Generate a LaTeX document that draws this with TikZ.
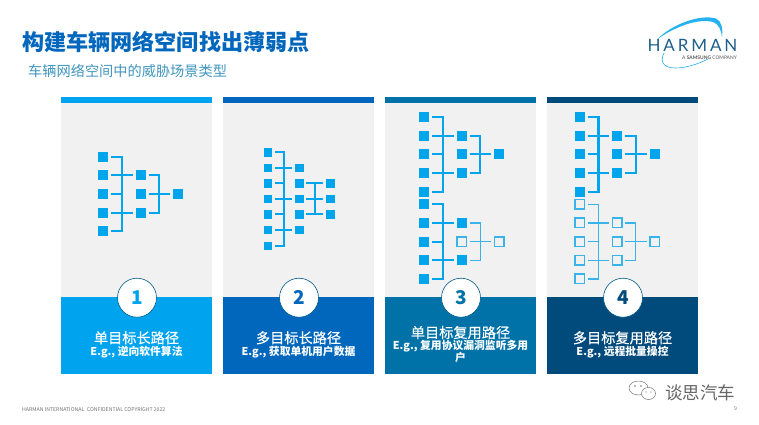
\documentclass[tikz,border=0pt]{standalone}
\usepackage{fontspec}
\setmainfont{Noto Sans CJK SC}
\newfontfamily\medfont[FakeBold=0.35]{Noto Sans CJK SC}
\newfontfamily\logofont[LetterSpace=17]{Lato}
\newfontfamily\logosubfont{Lato}
\usetikzlibrary{positioning, calc}

\definecolor{hcyan}{HTML}{00A3EE}
\definecolor{hblue}{HTML}{0067BD}
\definecolor{hteal}{HTML}{0072A8}
\definecolor{hnavy}{HTML}{004A7C}
\definecolor{hgrey}{HTML}{F1F1F1}
\definecolor{hwire}{HTML}{00A5EC}
\definecolor{hopen}{HTML}{38B4EA}
\definecolor{hlogo}{HTML}{1F5F8B}

\tikzset{
  sqsolid/.style={rectangle, fill=hwire, minimum size=10pt, inner sep=0pt},
  sqopen/.style={rectangle, draw=hopen, fill=hgrey, line width=1.5pt, minimum size=9.5pt, inner sep=0pt},
  sqsmall/.style={rectangle, fill=hwire, minimum size=8.4pt, inner sep=0pt},
  wiresolid/.style={draw=hwire, line width=2.2pt, shorten <=2.7pt},
  wireopen/.style={draw=hopen, line width=1.2pt, shorten <=2.7pt},
  gap/.style={shorten >=2.7pt},
}

% one tree of five, three and one squares: name, x, y, then looks of first column, outer squares, the rest
\newcommand{\attacktree}[6]{%
  \foreach \r/\dy in {1/0, 2/18.67, 3/37.33, 4/56, 5/74.67}
    \node[sq#4] (#1-a\r) at (#2,#3+\dy) {};
  \node[sq#5] (#1-b1) at (#2+37.4,#3+18.67) {};
  \node[sq#6] (#1-b2) at (#2+37.4,#3+37.33) {};
  \node[sq#5] (#1-b3) at (#2+37.4,#3+56) {};
  \node[sq#6] (#1-c) at (#2+75,#3+37.33) {};
  \coordinate (#1-top) at (#2+18.7,#3);
  \coordinate (#1-mid) at (#2+18.7,#3+37.33);
  \coordinate (#1-bot) at (#2+18.7,#3+74.67);
  \coordinate (#1-top2) at (#2+56,#3+18.67);
  \coordinate (#1-bot2) at (#2+56,#3+56);
  \draw[wire#4, gap] (#1-a1.east) -- (#1-top) -- (#1-bot) -- (#1-a5.east);
  \draw[wire#4, gap] (#1-a2.east) -- (#1-b1.west);
  \draw[wire#4] (#1-a3.east) -- (#1-mid);
  \draw[wire#4, gap] (#1-a4.east) -- (#1-b3.west);
  \draw[wire#6, gap] (#1-b1.east) -- (#1-top2) -- (#1-bot2) -- (#1-b3.east);
  \draw[wire#6, gap] (#1-b2.east) -- (#1-c.west);
}

\begin{document}
\begin{tikzpicture}[x=1pt, y=-1pt,
  maintitle/.style={anchor=west, inner sep=0pt, font=\fontsize{22.1}{26}\selectfont\bfseries, text=hblue},
  subtitle/.style={anchor=west, inner sep=0pt, font=\fontsize{14.2}{17}\selectfont, text=hteal!75},
  numcircle/.style={circle, draw=hteal!80!black, fill=white, line width=0.6pt, minimum size=39pt, inner sep=0pt, font=\fontsize{19}{22}\selectfont\bfseries},
  paneltext/.style={align=center, text=white, inner sep=0pt},
  footer/.style={inner sep=0pt, text=black!55, font=\fontsize{5.2}{6}\selectfont},
]
\useasboundingbox (0,0) rectangle (759,424);
\fill[white] (0,0) rectangle (759,424);

% title
\node[maintitle] (title) at (22,41.7) {构建车辆网络空间找出薄弱点};
\node[subtitle] (subhead) at (28,70.7) {车辆网络空间中的威胁场景类型};

% logo
\node[inner sep=0pt, text=hlogo, font=\logofont\fontsize{17}{18}\selectfont] (logoname) at (692.5,45) {HARMAN};
\node[inner sep=0pt, text=black!65, font=\logosubfont\fontsize{4.9}{5.5}\selectfont] (logosub) at (709.5,57.3) {A \textbf{SAMSUNG} COMPANY};
\fill[hcyan!85] (657,39.5) .. controls (672,24) and (700,14) .. (716,18.5) .. controls (722,21) and (723,30) .. (722,37) .. controls (721,30) and (719,24) .. (713,22) .. controls (698,18) and (674,27) .. (657,39.5);
\draw[hcyan!85, line width=0.6pt] (664,53) .. controls (660,60) and (662,68) .. (675,68) .. controls (688,68) and (700,63) .. (708,59);

% panels
\foreach \n/\px/\pc in {1/61/hcyan, 2/223/hblue, 3/385/hteal, 4/547/hnavy} {
  \fill[hgrey] (\px,97) rectangle (\px+151,297);
  \fill[\pc] (\px,97) rectangle (\px+151,103);
  \fill[\pc] (\px,297) rectangle (\px+151,374);
}

% trees
\attacktree{one}{103.3}{156.7}{solid}{solid}{solid}
\attacktree{upthree}{424.3}{117}{solid}{solid}{solid}
\attacktree{lowthree}{424.3}{204.3}{solid}{solid}{open}
\attacktree{upfour}{579.7}{117}{solid}{solid}{solid}
\attacktree{lowfour}{579.7}{204.3}{open}{open}{open}

% second tree is wider
\foreach \r/\ry in {1/152.3, 2/168, 3/183.3, 4/198.8, 5/214.3, 6/230.2, 7/246}
  \node[sqsmall] (two-a\r) at (267.7,\ry) {};
\foreach \r/\ry in {1/168, 2/183.3, 3/198.8, 4/214.3, 5/230.2}
  \node[sqsmall] (two-b\r) at (299.3,\ry) {};
\foreach \r/\ry in {1/183.3, 2/198.8, 3/214.3}
  \node[sqsmall] (two-c\r) at (330.3,\ry) {};
\coordinate (two-top) at (284,152.3);
\coordinate (two-bot) at (284,246);
\coordinate (two-top2) at (314.7,183.3);
\coordinate (two-bot2) at (314.7,214.3);
\draw[wiresolid, gap] (two-a1.east) -- (two-top) -- (two-bot) -- (two-a7.east);
\draw[wiresolid, gap] (two-a2.east) -- (two-b1.west);
\draw[wiresolid] (two-a3.east) -- (two-a3.east -| two-top);
\draw[wiresolid, gap] (two-a4.east) -- (two-b3.west);
\draw[wiresolid] (two-a5.east) -- (two-a5.east -| two-top);
\draw[wiresolid, gap] (two-a6.east) -- (two-b5.west);
\draw[wiresolid, gap] (two-b2.east) -- (two-c1.west);
\draw[wiresolid, gap] (two-b3.east) -- (two-c2.west);
\draw[wiresolid, gap] (two-b4.east) -- (two-c3.west);
\draw[wiresolid, shorten <=0pt] (two-top2) -- (two-bot2);

% numbers
\node[numcircle, text=hcyan] (num1) at (137,297.7) {1};
\node[numcircle, text=hblue] (num2) at (299,297.7) {2};
\node[numcircle, text=hteal] (num3) at (461,297.7) {3};
\node[numcircle, text=hnavy] (num4) at (623,297.7) {4};

% panel texts
\node[paneltext] (text1) at (136.5,344.5) {{\medfont\fontsize{14.2}{16.5}\selectfont 单目标长路径}\\{\fontsize{10.8}{12.5}\selectfont\bfseries E.g., 逆向软件算法}};
\node[paneltext] (text2) at (298.5,344.5) {{\medfont\fontsize{14.2}{16.5}\selectfont 多目标长路径}\\{\fontsize{10.8}{12.5}\selectfont\bfseries E.g., 获取单机用户数据}};
\node[paneltext] (text3) at (460.5,344.5) {{\medfont\fontsize{14.2}{16.5}\selectfont 单目标复用路径}\\{\fontsize{10.8}{12.5}\selectfont\bfseries E.g., 复用协议漏洞监听多用}\\{\fontsize{10.8}{12.5}\selectfont\bfseries 户}};
\node[paneltext] (text4) at (622.5,344.5) {{\medfont\fontsize{14.2}{16.5}\selectfont 多目标复用路径}\\{\fontsize{10.8}{12.5}\selectfont\bfseries E.g., 远程批量操控}};

% footer
\node[footer, anchor=west] (foot) at (22,410) {HARMAN INTERNATIONAL. CONFIDENTIAL COPYRIGHT 2022};
\node[footer] (page) at (735.5,409) {9};

% watermark
\draw[black!55, line width=0.5pt, fill=white] (638.5,388) ellipse (9.5 and 7);
\draw[black!55, line width=0.5pt, fill=white] (648.5,393.5) ellipse (7 and 6);
\fill[black!55] (635,386) circle (0.8) (641,386) circle (0.8) (646,392) circle (0.7) (651,392) circle (0.7);
\node[inner sep=0pt, text=black!60, font=\fontsize{17.5}{20}\selectfont] (mark) at (700,392.7) {谈思汽车};
\end{tikzpicture}
\end{document}
